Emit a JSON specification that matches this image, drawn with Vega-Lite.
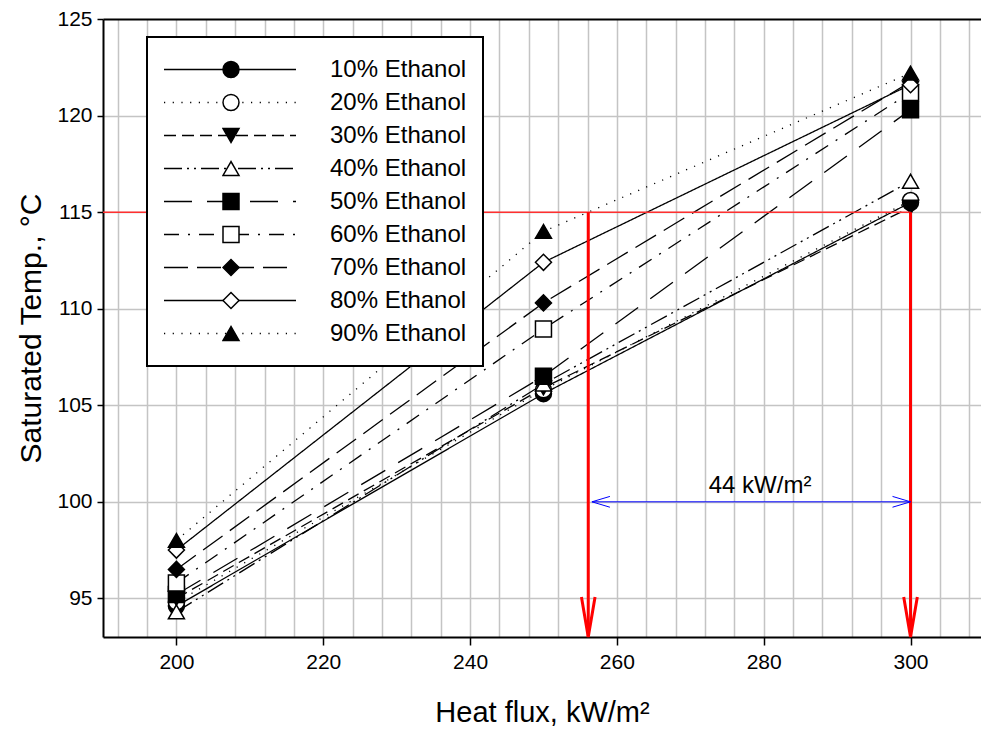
{
  "$schema": "https://vega.github.io/schema/vega-lite/v6.json",
  "width": 878,
  "height": 618,
  "autosize": {"type": "none"},
  "padding": {"left": 103, "top": 19, "right": 0, "bottom": 98},
  "background": "white",
  "config": {"view": {"stroke": null}, "font": "Liberation Sans"},
  "datasets": {
    "sat": [
      {"series": "10% Ethanol", "flux": 200, "temp": 94.6},
      {"series": "10% Ethanol", "flux": 250, "temp": 105.6},
      {"series": "10% Ethanol", "flux": 300, "temp": 115.5},
      {"series": "20% Ethanol", "flux": 200, "temp": 94.8},
      {"series": "20% Ethanol", "flux": 250, "temp": 105.8},
      {"series": "20% Ethanol", "flux": 300, "temp": 115.6},
      {"series": "30% Ethanol", "flux": 200, "temp": 95.0},
      {"series": "30% Ethanol", "flux": 250, "temp": 105.9},
      {"series": "30% Ethanol", "flux": 300, "temp": 115.25},
      {"series": "40% Ethanol", "flux": 200, "temp": 94.3},
      {"series": "40% Ethanol", "flux": 250, "temp": 106.1},
      {"series": "40% Ethanol", "flux": 300, "temp": 116.6},
      {"series": "50% Ethanol", "flux": 200, "temp": 95.2},
      {"series": "50% Ethanol", "flux": 250, "temp": 106.5},
      {"series": "50% Ethanol", "flux": 300, "temp": 120.3},
      {"series": "60% Ethanol", "flux": 200, "temp": 95.8},
      {"series": "60% Ethanol", "flux": 250, "temp": 108.95},
      {"series": "60% Ethanol", "flux": 300, "temp": 121.2},
      {"series": "70% Ethanol", "flux": 200, "temp": 96.5},
      {"series": "70% Ethanol", "flux": 250, "temp": 110.3},
      {"series": "70% Ethanol", "flux": 300, "temp": 121.75},
      {"series": "80% Ethanol", "flux": 200, "temp": 97.5},
      {"series": "80% Ethanol", "flux": 250, "temp": 112.4},
      {"series": "80% Ethanol", "flux": 300, "temp": 121.6},
      {"series": "90% Ethanol", "flux": 200, "temp": 98.0},
      {"series": "90% Ethanol", "flux": 250, "temp": 114.0},
      {"series": "90% Ethanol", "flux": 300, "temp": 122.2}
    ],
    "hline": [{"flux": 190, "flux2": 300, "temp": 115}],
    "vlines": [
      {"flux": 256.1, "temp": 115, "temp2": 93},
      {"flux": 300, "temp": 115, "temp2": 93}
    ],
    "span": [{"flux": 256.6, "flux2": 300, "temp": 100}],
    "spanLeft": [{"flux": 256.6, "temp": 100}],
    "spanRight": [{"flux": 300, "temp": 100}],
    "spanLabel": [{"flux": 279.5, "temp": 100, "label": "44 kW/m²"}]
  },
  "layer": [
    {
      "data": {"name": "sat"},
      "mark": {"type": "line", "color": "black", "strokeWidth": 1.3, "strokeCap": "butt"},
      "encoding": {
        "x": {
          "field": "flux",
          "type": "quantitative",
          "scale": {"domain": [190, 309.6], "nice": false, "zero": false},
          "axis": {
            "title": "Heat flux, kW/m²",
            "values": [192, 196, 200, 204, 208, 212, 216, 220, 224, 228, 232, 236, 240, 244, 248, 252, 256, 260, 264, 268, 272, 276, 280, 284, 288, 292, 296, 300, 304, 308],
            "tickCount": 60,
            "labelExpr": "datum.value % 20 === 0 ? datum.label : ''",
            "labelOverlap": false,
            "labelBound": false,
            "labelFlush": false,
            "tickOpacity": {"condition": {"test": "datum.value % 20 === 0", "value": 1}, "value": 0},
            "tickSize": 8,
            "tickWidth": 1.5,
            "tickColor": "black",
            "domainColor": "black",
            "domainWidth": 2,
            "grid": true,
            "gridColor": "#c4c4c4",
            "gridWidth": 1.5,
            "labelFont": "Liberation Sans",
            "labelFontSize": 21,
            "labelColor": "black",
            "labelPadding": 6,
            "titleFont": "Liberation Sans",
            "titleFontSize": 29,
            "titleFontWeight": "normal",
            "titleColor": "black",
            "titlePadding": 26
          }
        },
        "y": {
          "field": "temp",
          "type": "quantitative",
          "scale": {"domain": [93, 125], "nice": false, "zero": false},
          "axis": {
            "title": "Saturated Temp., °C",
            "values": [95, 100, 105, 110, 115, 120, 125],
            "grid": true,
            "gridColor": {"condition": {"test": "datum.value === 125", "value": "black"}, "value": "#c4c4c4"},
            "gridWidth": {"condition": {"test": "datum.value === 125", "value": 2}, "value": 1.5},
            "tickSize": 6,
            "tickWidth": 1.5,
            "tickColor": "black",
            "domainColor": "black",
            "domainWidth": 2,
            "labelFont": "Liberation Sans",
            "labelFontSize": 21,
            "labelColor": "black",
            "labelPadding": 5,
            "titleFont": "Liberation Sans",
            "titleFontSize": 30,
            "titleFontWeight": "normal",
            "titleColor": "black",
            "titlePadding": 10
          }
        },
        "strokeDash": {
          "field": "series",
          "type": "nominal",
          "scale": {"range": [[1, 0], [1.2, 7.5], [12, 6], [18, 5, 2, 5, 2, 5], [28, 15], [15, 9, 2, 9], [24, 9], [1, 0], [1.2, 7.5]]},
          "legend": {
            "title": null,
            "orient": "none",
            "legendX": 44,
            "legendY": 18,
            "symbolType": "stroke",
            "symbolSize": 17424,
            "symbolStrokeColor": "black",
            "symbolStrokeWidth": 1.3,
            "clipHeight": 33,
            "rowPadding": 0,
            "padding": 16,
            "labelFont": "Liberation Sans",
            "labelFontSize": 24,
            "labelColor": "black",
            "labelOffset": 33,
            "labelLimit": 0,
            "strokeColor": "black",
            "fillColor": "white",
            "zindex": 1,
            "encode": {"legend": {"update": {"strokeWidth": {"value": 2}}}}
          }
        }
      }
    },
    {
      "data": {"name": "sat"},
      "mark": {"type": "point", "filled": true, "stroke": "black", "strokeWidth": 1.5, "size": 256, "opacity": 1},
      "encoding": {
        "x": {"field": "flux", "type": "quantitative"},
        "y": {"field": "temp", "type": "quantitative"},
        "shape": {
          "field": "series",
          "type": "nominal",
          "scale": {
            "domain": ["10% Ethanol", "20% Ethanol", "30% Ethanol", "40% Ethanol", "50% Ethanol", "60% Ethanol", "70% Ethanol", "80% Ethanol", "90% Ethanol"],
            "range": ["circle", "circle", "triangle-down", "triangle-up", "square", "square", "diamond", "diamond", "triangle-up"]
          },
          "legend": {
            "title": null,
            "orient": "none",
            "legendX": 119,
            "legendY": 34,
            "symbolSize": 256,
            "symbolStrokeColor": "black",
            "symbolStrokeWidth": 1.5,
            "symbolOpacity": 1,
            "clipHeight": 33,
            "rowPadding": 0,
            "padding": 0,
            "labelOpacity": 0,
            "zindex": 2,
            "encode": {"symbols": {"update": {"stroke": {"value": "black"}, "strokeWidth": {"value": 1.5}}}}
          }
        },
        "fill": {
          "field": "series",
          "type": "nominal",
          "scale": {
            "domain": ["10% Ethanol", "20% Ethanol", "30% Ethanol", "40% Ethanol", "50% Ethanol", "60% Ethanol", "70% Ethanol", "80% Ethanol", "90% Ethanol"],
            "range": ["black", "white", "black", "white", "black", "white", "black", "white", "black"]
          },
          "legend": {
            "title": null,
            "orient": "none",
            "legendX": 119,
            "legendY": 34,
            "symbolSize": 256,
            "symbolStrokeColor": "black",
            "symbolStrokeWidth": 1.5,
            "symbolOpacity": 1,
            "clipHeight": 33,
            "rowPadding": 0,
            "padding": 0,
            "labelOpacity": 0,
            "zindex": 2,
            "encode": {"symbols": {"update": {"stroke": {"value": "black"}, "strokeWidth": {"value": 1.5}}}}
          }
        }
      }
    },
    {
      "data": {"name": "hline"},
      "mark": {"type": "rule", "color": "#ff3030", "strokeWidth": 1.5},
      "encoding": {
        "x": {"field": "flux", "type": "quantitative"},
        "x2": {"field": "flux2"},
        "y": {"field": "temp", "type": "quantitative"}
      }
    },
    {
      "data": {"name": "vlines"},
      "mark": {"type": "rule", "color": "#ff0000", "strokeWidth": 3},
      "encoding": {
        "x": {"field": "flux", "type": "quantitative"},
        "y": {"field": "temp", "type": "quantitative"},
        "y2": {"field": "temp2"}
      }
    },
    {
      "data": {"name": "vlines"},
      "mark": {"type": "point", "shape": "M-0.17,-1L0,0L0.17,-1", "size": 6400, "filled": false, "fill": null, "stroke": "#ff0000", "strokeWidth": 3, "opacity": 1, "strokeJoin": "miter"},
      "encoding": {
        "x": {"field": "flux", "type": "quantitative"},
        "y": {"field": "temp2", "type": "quantitative"}
      }
    },
    {
      "data": {"name": "span"},
      "mark": {"type": "rule", "color": "#0000ff", "strokeWidth": 1},
      "encoding": {
        "x": {"field": "flux", "type": "quantitative"},
        "x2": {"field": "flux2"},
        "y": {"field": "temp", "type": "quantitative"}
      }
    },
    {
      "data": {"name": "spanLeft"},
      "mark": {"type": "point", "shape": "M1,-0.3L0,0L1,0.3", "size": 1296, "filled": false, "stroke": "#0000ff", "strokeWidth": 1, "opacity": 1},
      "encoding": {
        "x": {"field": "flux", "type": "quantitative"},
        "y": {"field": "temp", "type": "quantitative"}
      }
    },
    {
      "data": {"name": "spanRight"},
      "mark": {"type": "point", "shape": "M-1,-0.3L0,0L-1,0.3", "size": 1296, "filled": false, "stroke": "#0000ff", "strokeWidth": 1, "opacity": 1},
      "encoding": {
        "x": {"field": "flux", "type": "quantitative"},
        "y": {"field": "temp", "type": "quantitative"}
      }
    },
    {
      "data": {"name": "spanLabel"},
      "mark": {"type": "text", "font": "Liberation Sans", "fontSize": 24, "color": "black", "align": "center", "baseline": "alphabetic", "dy": -9},
      "encoding": {
        "x": {"field": "flux", "type": "quantitative"},
        "y": {"field": "temp", "type": "quantitative"},
        "text": {"field": "label"}
      }
    }
  ]
}
